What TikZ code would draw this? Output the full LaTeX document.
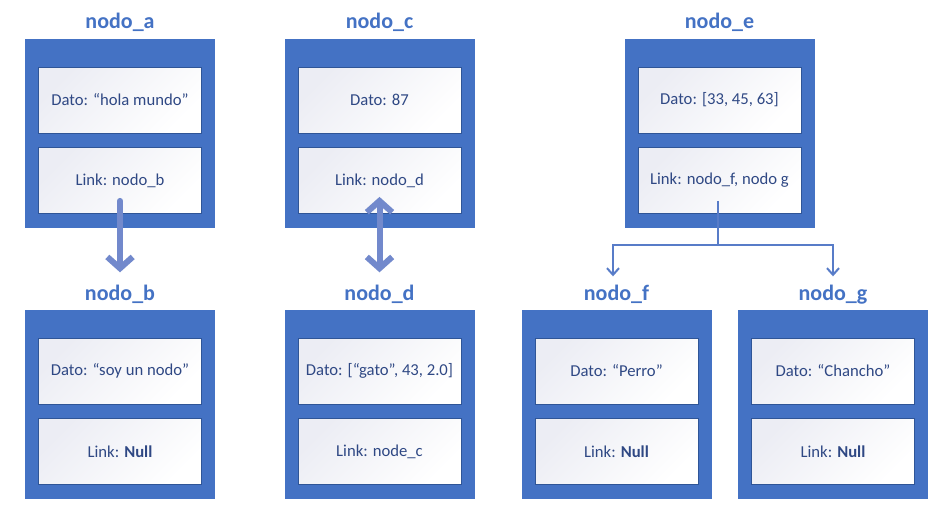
\documentclass[tikz,border=0pt]{standalone}
\usepackage{fontspec}
\setmainfont{Carlito}
\usepackage{tikz}
\usetikzlibrary{arrows.meta,calc}

\definecolor{azul}{RGB}{68,114,196}
\definecolor{borde}{RGB}{47,85,151}
\definecolor{texto}{RGB}{47,72,132}
\definecolor{fondo}{RGB}{236,237,244}
\definecolor{flechaclara}{RGB}{114,137,204}
\definecolor{ramaazul}{RGB}{88,124,200}

\begin{document}
\begin{tikzpicture}[x=0.75pt, y=-0.75pt,
    caja/.style={fill=azul, minimum width=142.5pt, minimum height=141.75pt, inner sep=0},
    celda/.style={draw=borde, line width=0.6pt, left color=fondo, right color=white,
        shading angle=45,
        minimum width=122.25pt, minimum height=49.5pt, text=texto,
        font=\fontsize{12.5}{15}\selectfont},
    titulo/.style={anchor=base, inner sep=0, text=azul, font=\bfseries\fontsize{16.5}{20}\selectfont},
    flecha/.style={draw=flechaclara, line width=4.5pt, line cap=round},
    rama/.style={draw=ramaazul, line width=1.5pt}]
    \useasboundingbox (0,0) rectangle (950,511);

    % nodo_a
    \node[caja] (nodoA) at (120,133.5) {};
    \node[titulo] (tituloA) at (120,28) {nodo\_a};
    \node[celda] (datoA) at (120,100) {Dato: “hola mundo”};
    \node[celda] (linkA) at (120,180.5) {Link: nodo\_b};

    % nodo_c
    \node[caja] (nodoC) at (379.5,133.5) {};
    \node[titulo] (tituloC) at (379.5,28) {nodo\_c};
    \node[celda] (datoC) at (379.5,100) {Dato: 87};
    \node[celda] (linkC) at (379.5,180.5) {Link: nodo\_d};

    % nodo_e
    \node[caja] (nodoE) at (719.5,133.5) {};
    \node[titulo] (tituloE) at (719.5,28) {nodo\_e};
    \node[celda] (datoE) at (719.5,100) {Dato: [33, 45, 63]};
    \node[celda] (linkE) at (719.5,180.5) {Link: nodo\_f, nodo g};

    % nodo_b
    \node[caja] (nodoB) at (120,404.5) {};
    \node[titulo] (tituloB) at (120,300) {nodo\_b};
    \node[celda] (datoB) at (120,371) {Dato: “soy un nodo”};
    \node[celda] (linkB) at (120,451.5) {Link: \textbf{Null}};

    % nodo_d
    \node[caja] (nodoD) at (379.5,404.5) {};
    \node[titulo] (tituloD) at (379.5,300) {nodo\_d};
    \node[celda] (datoD) at (379.5,371) {Dato: [“gato”, 43, 2.0]};
    \node[celda] (linkD) at (379.5,451.5) {Link: node\_c};

    % nodo_f
    \node[caja] (nodoF) at (616.5,404.5) {};
    \node[titulo] (tituloF) at (616.5,300) {nodo\_f};
    \node[celda] (datoF) at (616.5,371) {Dato: “Perro”};
    \node[celda] (linkF) at (616.5,451.5) {Link: \textbf{Null}};

    % nodo_g
    \node[caja] (nodoG) at (833,404.5) {};
    \node[titulo] (tituloG) at (833,300) {nodo\_g};
    \node[celda] (datoG) at (833,371) {Dato: “Chancho”};
    \node[celda] (linkG) at (833,451.5) {Link: \textbf{Null}};

    % links
    \draw[flecha, -{Straight Barb[width=19pt, length=8.5pt]}]
        ($(linkA.south)+(0,-13)$) -- ($(tituloB.north)+(0,-12)$);
    \draw[flecha, {Straight Barb[width=19pt, length=8.5pt]}-{Straight Barb[width=19pt, length=8.5pt]}]
        ($(linkC.south)+(0,-17)$) -- ($(tituloD.north)+(0,-12)$);

    % bifurcacion
    \coordinate (bifurca) at (718,245);
    \draw[rama] ($(linkE.south)+(-1.5,-13)$) -- (bifurca);
    \draw[rama, -{Straight Barb[width=9pt, length=5pt]}] (bifurca) -| ($(tituloF.north)+(-3.5,-8)$);
    \draw[rama, -{Straight Barb[width=9pt, length=5pt]}] (bifurca) -| ($(tituloG.north)+(0,-8)$);
\end{tikzpicture}
\end{document}
